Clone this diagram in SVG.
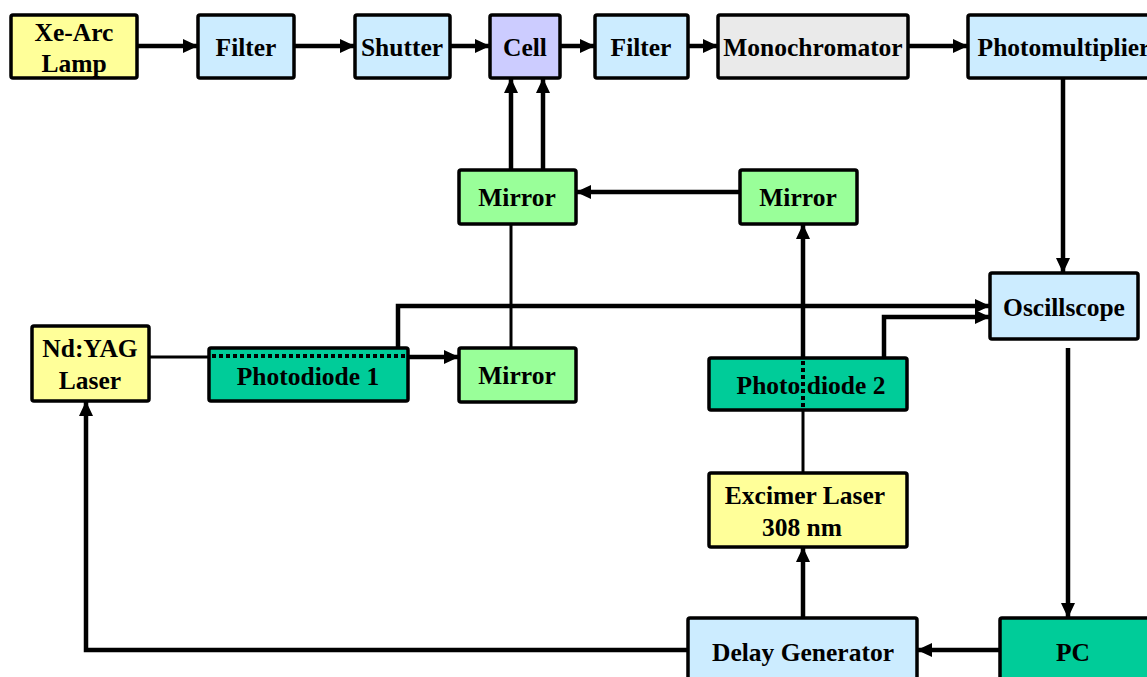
<svg xmlns="http://www.w3.org/2000/svg" width="1147" height="677" viewBox="0 0 1147 677">
<style>
.box{stroke:#000;stroke-width:3.5}
.t{font-family:"Liberation Serif","Times New Roman",serif;font-weight:bold;font-size:25.5px;fill:#000;text-anchor:middle}
.c{fill:none;stroke:#000;stroke-width:4.5}
.thin{fill:none;stroke:#000;stroke-width:3}
.dot{fill:none;stroke:#000;stroke-width:4;stroke-dasharray:4 3}
.yel{fill:#FFFF99}.blu{fill:#CCECFF}.vio{fill:#CCCCFF}.gry{fill:#EAEAEA}.grn{fill:#99FF99}.tea{fill:#00CC99}
</style>
<defs>
<marker id="a" markerUnits="userSpaceOnUse" markerWidth="15" markerHeight="14" refX="15" refY="7" orient="auto">
<path d="M0,0 L15,7 L0,14 z" fill="#000"/>
</marker>
</defs>
<rect width="1147" height="677" fill="#fff"/>
<g id="connectors">
<path class="c" d="M137,46 H198" marker-end="url(#a)"/>
<path class="c" d="M294,46 H355" marker-end="url(#a)"/>
<path class="c" d="M450,46 H490" marker-end="url(#a)"/>
<path class="c" d="M560,46 H595" marker-end="url(#a)"/>
<path class="c" d="M688,46 H718" marker-end="url(#a)"/>
<path class="c" d="M908,46 H968" marker-end="url(#a)"/>
<path class="c" d="M1063,78 V273" marker-end="url(#a)"/>
<path class="thin" d="M511,348 V224"/>
<path class="dot" d="M511,173 V222"/>
<path class="c" d="M511,170 V78" marker-end="url(#a)"/>
<path class="c" d="M543,170 V78" marker-end="url(#a)"/>
<path class="c" d="M740,192 H576" marker-end="url(#a)"/>
<path class="thin" d="M149,357 H209"/>
<path class="c" d="M408,357 H459" marker-end="url(#a)"/>
<path class="c" d="M398,348 V306 H990" marker-end="url(#a)"/>
<path class="c" d="M884,358 V317 H990" marker-end="url(#a)"/>
<path class="thin" d="M803,473 V410"/>
<path class="c" d="M803,358 V224" marker-end="url(#a)"/>
<path class="c" d="M803,618 V547" marker-end="url(#a)"/>
<path class="c" d="M1068,348 V618" marker-end="url(#a)"/>
<path class="c" d="M1000,650 H917" marker-end="url(#a)"/>
<path class="c" d="M688,650 H86 V401" marker-end="url(#a)"/>
</g>
<g id="xe-arc-lamp"><rect class="box yel" x="11" y="15" width="126" height="63" rx="2"/><text class="t" x="74" y="41">Xe-Arc</text><text class="t" x="74" y="72">Lamp</text></g>
<g id="filter1"><rect class="box blu" x="198" y="15" width="96" height="63" rx="2"/><text class="t" x="246" y="56">Filter</text></g>
<g id="shutter"><rect class="box blu" x="355" y="15" width="95" height="63" rx="2"/><text class="t" x="402" y="56">Shutter</text></g>
<g id="cell"><rect class="box vio" x="490" y="15" width="70" height="63" rx="2"/><text class="t" x="525" y="56">Cell</text></g>
<g id="filter2"><rect class="box blu" x="595" y="15" width="93" height="63" rx="2"/><text class="t" x="641" y="56">Filter</text></g>
<g id="monochromator"><rect class="box gry" x="718" y="15" width="190" height="63" rx="2"/><text class="t" x="813" y="56">Monochromator</text></g>
<g id="photomultiplier"><rect class="box blu" x="968" y="15" width="192" height="63" rx="2"/><text class="t" x="1064" y="56">Photomultiplier</text></g>
<g id="mirror-upper-left"><rect class="box grn" x="459" y="170" width="117" height="54" rx="2"/><text class="t" x="517" y="206">Mirror</text></g>
<g id="mirror-upper-right"><rect class="box grn" x="740" y="170" width="117" height="54" rx="2"/><text class="t" x="798" y="206">Mirror</text></g>
<g id="oscilloscope"><rect class="box blu" x="990" y="273" width="148" height="66" rx="2"/><text class="t" x="1064" y="316">Oscillscope</text></g>
<g id="ndyag-laser"><rect class="box yel" x="32" y="326" width="117" height="75" rx="2"/><text class="t" x="90" y="357">Nd:YAG</text><text class="t" x="90" y="389">Laser</text></g>
<g id="photodiode1"><rect class="box tea" x="209" y="348" width="199" height="53" rx="2"/><path class="dot" d="M212,356 H406"/><text class="t" x="308" y="385">Photodiode 1</text></g>
<g id="mirror-lower"><rect class="box grn" x="459" y="348" width="117" height="54" rx="2"/><text class="t" x="517" y="384">Mirror</text></g>
<g id="photodiode2"><rect class="box tea" x="709" y="358" width="198" height="52" rx="2"/><text class="t" x="811" y="394">Photo diode 2</text><path class="dot" d="M803,361 V408"/></g>
<g id="excimer-laser"><rect class="box yel" x="709" y="473" width="198" height="74" rx="2"/><text class="t" x="805" y="504">Excimer Laser</text><text class="t" x="802" y="536">308 nm</text></g>
<g id="delay-generator"><rect class="box blu" x="688" y="618" width="229" height="65" rx="2"/><text class="t" x="803" y="661">Delay Generator</text></g>
<g id="pc"><rect class="box tea" x="1000" y="618" width="155" height="65" rx="2"/><text class="t" x="1073" y="661">PC</text></g>
</svg>
